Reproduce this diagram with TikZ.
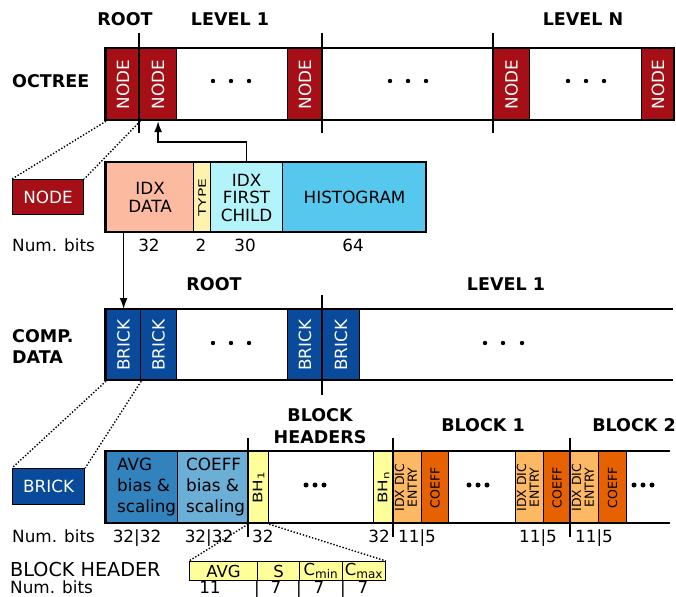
\documentclass[tikz,border=0pt]{standalone}
\usepackage{fontspec}
\setmainfont{DejaVu Sans}
\usetikzlibrary{arrows.meta}
\definecolor{nodered}{HTML}{A50F15}
\definecolor{brickblue}{HTML}{0A4A9A}
\definecolor{idxpeach}{HTML}{FCBBA1}
\definecolor{typeyellow}{HTML}{FFF2AE}
\definecolor{childcyan}{HTML}{B3F4FA}
\definecolor{histblue}{HTML}{56C8EE}
\definecolor{avgblue}{HTML}{3182BD}
\definecolor{coeffblue}{HTML}{6BAED6}
\definecolor{bhyellow}{HTML}{FFFF99}
\definecolor{entryorange}{HTML}{FDB863}
\definecolor{coefforange}{HTML}{E66101}
\begin{document}
\begin{tikzpicture}[x=1pt,y=-1pt,
  txt/.style={font=\fontsize{16.8}{17.5}\selectfont, inner sep=0pt},
  numtxt/.style={font=\fontsize{16.8}{17.5}\selectfont, inner sep=0pt, anchor=base},
  boldtxt/.style={font=\fontsize{17.5}{18}\selectfont\bfseries, inner sep=0pt, anchor=base},
  seg/.style={draw=black, line width=1.2pt, inner sep=0pt, anchor=north west,
    font=\fontsize{16.8}{17.5}\selectfont},
  small/.style={font=\fontsize{12.5}{11.5}\selectfont},
  hseg/.style={draw=black, line width=1pt, inner sep=0pt, anchor=north west,
    fill=bhyellow, minimum height=19, font=\fontsize{16.5}{17}\selectfont},
  barline/.style={line width=2.8pt},
  divider/.style={line width=2.8pt},
  dotline/.style={line width=1.4pt, dash pattern=on 1.4pt off 1.8pt},
  arr/.style={line width=1.5pt, -{Latex[length=11pt,width=8pt]}},
  bigdot/.style={circle, fill=black, inner sep=0pt, minimum size=4.4pt},
  fatdot/.style={circle, fill=black, inner sep=0pt, minimum size=5pt}
]
\useasboundingbox (0,0) rectangle (676,596);

% ---------------- OCTREE ----------------
\node[boldtxt] (lroot) at (125,26) {ROOT};
\node[boldtxt] (llev1) at (230,26) {LEVEL 1};
\node[boldtxt] (llevn) at (583,26) {LEVEL N};
\node[boldtxt, anchor=base west] (loct) at (12,88) {OCTREE};

\node[seg, fill=nodered, text=white, minimum width=33, minimum height=72] (o1) at (106,48) {\rotatebox{90}{NODE}};
\node[seg, fill=nodered, text=white, minimum width=37, minimum height=72] (o2) at (139,48) {\rotatebox{90}{NODE}};
\node[seg, fill=nodered, text=white, minimum width=35, minimum height=72] (o3) at (287,48) {\rotatebox{90}{NODE}};
\node[seg, fill=nodered, text=white, minimum width=36, minimum height=72] (o4) at (493,48) {\rotatebox{90}{NODE}};
\node[seg, fill=nodered, text=white, minimum width=33, minimum height=72] (o5) at (641,48) {\rotatebox{90}{NODE}};
\draw[barline] (105,48) rectangle (674,120);
\draw[divider] (139,33) -- (139,133);
\draw[divider] (322,33) -- (322,133);
\draw[divider] (493,33) -- (493,133);
\foreach \x in {213,231,249,390,408,426,568,586,604}
  \node[bigdot] at (\x,81) {};

% ---------------- NODE detail ----------------
\node[seg, fill=nodered, text=white, minimum width=71, minimum height=35] (nodebox) at (12,179) {NODE};
\draw[dotline] (o1.south west) -- (nodebox.north west);
\draw[dotline] (o1.south east) -- (nodebox.north east);

\node[seg, fill=idxpeach, minimum width=87, minimum height=70, align=center] (idx) at (106,162) {IDX\\DATA};
\node[seg, fill=typeyellow, minimum width=17, minimum height=70] (type) at (193,162)
  {\rotatebox{90}{\fontsize{15.5}{16}\selectfont\scalebox{1}[0.66]{TYPE}}};
\node[seg, fill=childcyan, minimum width=72, minimum height=70, align=center] (child) at (210,162) {IDX\\FIRST\\CHILD};
\node[seg, fill=histblue, minimum width=144, minimum height=70] (hist) at (282,162) {HISTOGRAM};
\draw[barline] (105,162) rectangle (426,232);

\node[numtxt, anchor=base west] (nb1) at (12,251) {Num. bits};
\node[numtxt] (n1a) at (149,251) {32};
\node[numtxt] (n1b) at (201,251) {2};
\node[numtxt] (n1c) at (245,251) {30};
\node[numtxt] (n1d) at (353,251) {64};

\draw[arr] (child.north) -- ++(0,-20) -| (o2.south);

% ---------------- COMP. DATA ----------------
\node[boldtxt] (lroot2) at (214,290) {ROOT};
\node[boldtxt] (llev12) at (506,290) {LEVEL 1};
\node[boldtxt, anchor=base west] (lcomp) at (12,342) {COMP.};
\node[boldtxt, anchor=base west] (ldata) at (12,363) {DATA};

\node[seg, fill=brickblue, text=white, minimum width=34, minimum height=71] (b1) at (106,309) {\rotatebox{90}{BRICK}};
\node[seg, fill=brickblue, text=white, minimum width=36, minimum height=71] (b2) at (140,309) {\rotatebox{90}{BRICK}};
\node[seg, fill=brickblue, text=white, minimum width=35, minimum height=71] (b3) at (287,309) {\rotatebox{90}{BRICK}};
\node[seg, fill=brickblue, text=white, minimum width=37, minimum height=71] (b4) at (322,309) {\rotatebox{90}{BRICK}};
\draw[barline] (673,309) -- (105,309) -- (105,380) -- (673,380);
\draw[divider] (322,295) -- (322,395);
\foreach \x in {213,231,249,485,503,522}
  \node[bigdot] at (\x,343) {};

\draw[arr] (idx.south -| b1.north) -- (b1.north);

% ---------------- BRICK detail ----------------
\node[seg, fill=brickblue, text=white, minimum width=72, minimum height=36] (brickbox) at (12,468) {BRICK};
\draw[dotline] (b1.south west) -- (brickbox.north west);
\draw[dotline] (b1.south east) -- (brickbox.north east);

\node[boldtxt] (lbh1) at (320,421) {BLOCK};
\node[boldtxt] (lbh2) at (320,443) {HEADERS};
\node[boldtxt] (lblk1) at (483,431) {BLOCK 1};
\node[boldtxt] (lblk2) at (634,431) {BLOCK 2};

\node[seg, fill=avgblue, minimum width=71, minimum height=72] (avg) at (106,451) {};
\node[seg, fill=coeffblue, minimum width=71, minimum height=72] (coeff) at (177,451) {};
\node[txt, anchor=west, align=left, font=\fontsize{16.8}{21}\selectfont] (avgtxt) at (117,487) {AVG\\bias \&\\scaling};
\node[txt, anchor=west, align=left, font=\fontsize{16.8}{21}\selectfont] (coefftxt) at (186,487) {COEFF\\bias \&\\scaling};
\node[seg, fill=bhyellow, minimum width=20, minimum height=72] (bh1) at (248,451)
  {\rotatebox{90}{\scalebox{1}[0.78]{BH\textsubscript{1}}}};
\node[seg, fill=bhyellow, minimum width=20, minimum height=72] (bhn) at (373,451)
  {\rotatebox{90}{\scalebox{1}[0.78]{BH\textsubscript{n}}}};
\node[seg, fill=entryorange, minimum width=28, minimum height=72, small] (e1) at (393,451)
  {\rotatebox{90}{\begin{tabular}{@{}c@{}}IDX DIC\\ENTRY\end{tabular}}};
\node[seg, fill=coefforange, minimum width=27, minimum height=72, small] (c1) at (421,451) {\rotatebox{90}{COEFF}};
\node[seg, fill=entryorange, minimum width=28, minimum height=72, small] (e2) at (515,451)
  {\rotatebox{90}{\begin{tabular}{@{}c@{}}IDX DIC\\ENTRY\end{tabular}}};
\node[seg, fill=coefforange, minimum width=27, minimum height=72, small] (c2) at (543,451) {\rotatebox{90}{COEFF}};
\node[seg, fill=entryorange, minimum width=28, minimum height=72, small] (e3) at (570,451)
  {\rotatebox{90}{\begin{tabular}{@{}c@{}}IDX DIC\\ENTRY\end{tabular}}};
\node[seg, fill=coefforange, minimum width=28, minimum height=72, small] (c3) at (598,451) {\rotatebox{90}{COEFF}};
\draw[barline] (670,451) -- (105,451) -- (105,523) -- (670,523);
\draw[divider] (248,438) -- (248,537);
\draw[divider] (393,438) -- (393,537);
\draw[divider] (570,438) -- (570,537);
\foreach \x in {306,315,324,469,478,487,634,643,652}
  \node[fatdot] at (\x,485) {};

\node[numtxt, anchor=base west] (nb2) at (12,542) {Num. bits};
\node[numtxt] (n2a) at (137,542) {32|32};
\node[numtxt] (n2b) at (209,542) {32|32};
\node[numtxt, anchor=base west] (n2c) at (252,542) {32};
\node[numtxt, anchor=base east] (n2d) at (390,542) {32};
\node[numtxt, anchor=base west] (n2e) at (398,542) {11|5};
\node[numtxt, anchor=base west] (n2f) at (519,542) {11|5};
\node[numtxt, anchor=base west] (n2g) at (575,542) {11|5};

% ---------------- BLOCK HEADER ----------------
\node[txt, anchor=base west, font=\fontsize{19.2}{20}\selectfont] (lbhdr) at (10,576) {BLOCK HEADER};
\node[hseg, minimum width=68] (havg) at (189,561) {AVG};
\node[hseg, minimum width=42] (hs) at (257,561) {S};
\node[hseg, minimum width=43] (hcmin) at (299,561) {C\textsubscript{\fontsize{12}{12}\selectfont min}};
\node[hseg, minimum width=43] (hcmax) at (342,561) {C\textsubscript{\fontsize{12}{12}\selectfont max}};
\draw[dotline] (bh1.south west) -- (havg.north west);
\draw[dotline] (bh1.south east) -- (hcmax.north east);

\node[numtxt, anchor=base west] (nb3) at (10,593) {Num. bits};
\node[numtxt] (n3a) at (210,593) {11};
\node[numtxt] (s3a) at (257,593) {|};
\node[numtxt] (n3b) at (276,593) {7};
\node[numtxt] (s3b) at (299,593) {|};
\node[numtxt] (n3c) at (319,593) {7};
\node[numtxt] (s3c) at (343,593) {|};
\node[numtxt] (n3d) at (363,593) {7};
\end{tikzpicture}
\end{document}
